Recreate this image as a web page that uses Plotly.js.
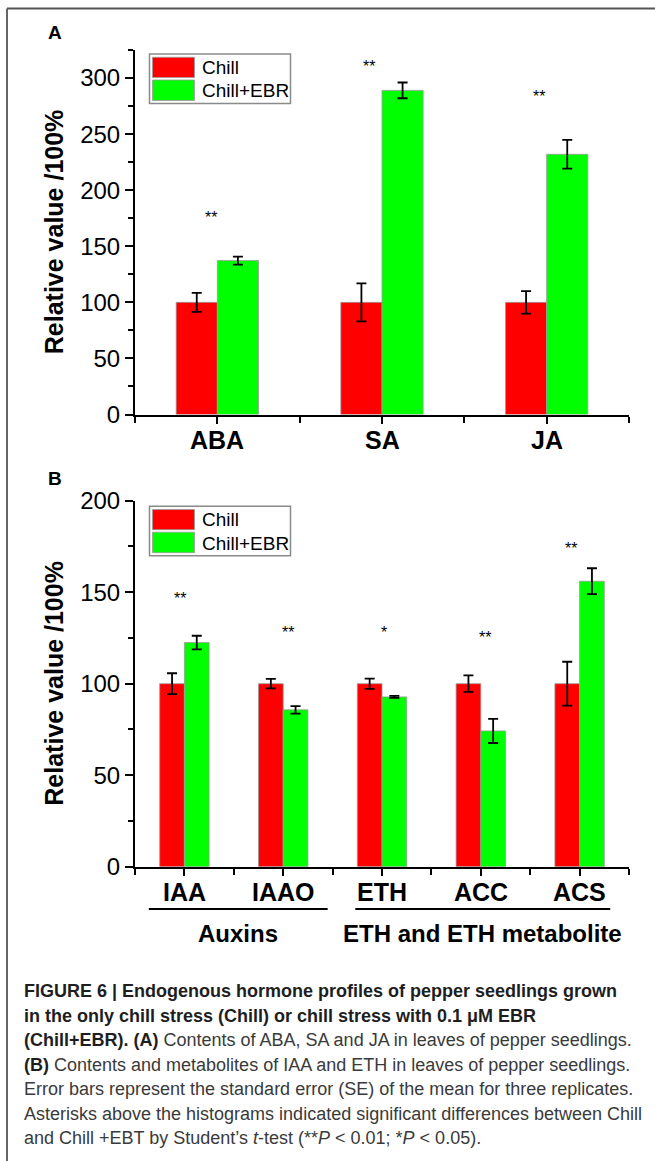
<!DOCTYPE html>
<html>
<head>
<meta charset="utf-8">
<script src="https://cdn.plot.ly/plotly-3.0.1.min.js"></script>
<style>
  html, body { margin: 0; padding: 0; background: #fff; }
  #chart { width: 655px; height: 1161px; }
</style>
</head>
<body>
<div id="chart"></div>
<script>
// ---------- data ----------
const seriesNames = ['Chill', 'Chill+EBR'];

const catsA = ['ABA', 'SA', 'JA'];
const chillA = [100, 100, 100];
const chillAErr = [8.5, 17, 10];
const ebrA = [137.2, 289, 232];
const ebrAErr = [3.5, 7, 12.8];
const sigA = ['**', '**', '**'];
const sigALevel = [179, 313.5, 287];

const catsB = ['IAA', 'IAAO', 'ETH', 'ACC', 'ACS'];
const chillB = [100, 100, 100, 100, 100];
const chillBErr = [5.7, 2.6, 2.8, 4.5, 12];
const ebrB = [122.5, 85.7, 92.8, 74.2, 156];
const ebrBErr = [3.7, 2, 0.5, 6.6, 7.1];
const sigB = ['**', '**', '*', '**', '**'];
const sigBLevel = [149, 130, 130, 127.6, 176];

const groupNames = ['Auxins', 'ETH and ETH metabolite'];
const groupMembers = [[0, 1], [2, 3, 4]];

const captionLines = [
  '<b>FIGURE 6 | Endogenous hormone profiles of pepper seedlings grown</b>',
  '<b>in the only chill stress (Chill) or chill stress with 0.1 \u03bcM EBR</b>',
  '<b>(Chill+EBR). (A)</b> Contents of ABA, SA and JA in leaves of pepper seedlings.',
  '<b>(B)</b> Contents and metabolites of IAA and ETH in leaves of pepper seedlings.',
  'Error bars represent the standard error (SE) of the mean for three replicates.',
  'Asterisks above the histograms indicated significant differences between Chill',
  'and Chill +EBT by Student\u2019s <i>t</i>-test (**<i>P</i> &lt; 0.01; *<i>P</i> &lt; 0.05).'
];

// ---------- layout helpers ----------
const W = 655, H = 1161;
const px = v => v / W;
const py = v => 1 - v / H;
const FONT = 'Liberation Sans, Arial, Helvetica, sans-serif';
const RED = '#ff0000', GREEN = '#00ff00';

const idxA = catsA.map((_, i) => i);
const idxB = catsB.map((_, i) => i);

function barTrace(x, y, err, color, name, xa, ya) {
  return {
    type: 'bar', x: x, y: y, name: name, xaxis: xa, yaxis: ya,
    marker: { color: color, line: { color: '#9a9a9a', width: 0.8 } },
    error_y: { type: 'data', array: err, visible: true, color: '#000', thickness: 1.8, width: 5 },
    showlegend: false, hoverinfo: 'skip'
  };
}

const data = [
  barTrace(idxA, chillA, chillAErr, RED, seriesNames[0], 'x', 'y'),
  barTrace(idxA, ebrA, ebrAErr, GREEN, seriesNames[1], 'x', 'y'),
  barTrace(idxB, chillB, chillBErr, RED, seriesNames[0], 'x2', 'y2'),
  barTrace(idxB, ebrB, ebrBErr, GREEN, seriesNames[1], 'x2', 'y2')
];

function xAxis(cats, anchor) {
  const n = cats.length;
  const bounds = [];
  for (let i = 0; i <= n; i++) bounds.push(i - 0.5);
  return {
    domain: [px(135), px(629)], anchor: anchor,
    range: [-0.5, n - 0.5], tickmode: 'array',
    tickvals: cats.map((_, i) => i), ticktext: cats, showticklabels: false,
    ticks: 'outside', ticklen: 7, tickwidth: 2, tickcolor: '#000',
    minor: { tickmode: 'array', tickvals: bounds, ticks: 'outside', ticklen: 6, tickwidth: 2, tickcolor: '#000' },
    showline: true, linewidth: 2, linecolor: '#000',
    showgrid: false, zeroline: false, fixedrange: true
  };
}
function yAxis(domPx, top, anchor) {
  return {
    domain: [py(domPx[1]), py(domPx[0])], anchor: anchor,
    range: [0, top], tick0: 0, dtick: 50,
    ticks: 'outside', ticklen: 8, tickwidth: 2, tickcolor: '#000',
    minor: { tick0: 0, dtick: 25, ticks: 'outside', ticklen: 5, tickwidth: 2, tickcolor: '#000' },
    showline: true, linewidth: 2, linecolor: '#000',
    showgrid: false, zeroline: false, fixedrange: true,
    tickfont: { family: FONT, size: 24, color: '#000' }
  };
}

const annotations = [];
const shapes = [];

// category labels (bold) placed under each axis
catsA.forEach((c, i) => annotations.push({ xref: 'x', yref: 'paper', x: i, y: py(440), text: '<b>' + c + '</b>',
  showarrow: false, xanchor: 'center', yanchor: 'middle', font: { family: FONT, size: 25, color: '#000' } }));
catsB.forEach((c, i) => annotations.push({ xref: 'x2', yref: 'paper', x: i, y: py(892), text: '<b>' + c + '</b>',
  showarrow: false, xanchor: 'center', yanchor: 'middle', font: { family: FONT, size: 25, color: '#000' } }));

// panel letters
annotations.push({ xref: 'paper', yref: 'paper', x: px(55), y: py(33), text: '<b>A</b>', showarrow: false,
  font: { family: FONT, size: 19, color: '#000' }, xanchor: 'center', yanchor: 'middle' });
annotations.push({ xref: 'paper', yref: 'paper', x: px(55), y: py(478), text: '<b>B</b>', showarrow: false,
  font: { family: FONT, size: 19, color: '#000' }, xanchor: 'center', yanchor: 'middle' });

// y titles
[[50, 414.5], [500.7, 866.7]].forEach(d => {
  annotations.push({ xref: 'paper', yref: 'paper', x: px(54), y: py((d[0] + d[1]) / 2),
    text: '<b>Relative value /100%</b>', textangle: -90, showarrow: false,
    font: { family: FONT, size: 25, color: '#000' }, xanchor: 'center', yanchor: 'middle' });
});

// significance marks
const sigADx = [-0.04, -0.076, -0.049];
const sigBDx = [-0.04, 0.05, 0.02, 0.04, -0.09];
sigA.forEach((s, i) => annotations.push({ xref: 'x', yref: 'y', x: i + sigADx[i], y: sigALevel[i], text: s,
  showarrow: false, yshift: -4, font: { family: FONT, size: 16, color: '#000' }, xanchor: 'center', yanchor: 'middle' }));
sigB.forEach((s, i) => annotations.push({ xref: 'x2', yref: 'y2', x: i + sigBDx[i], y: sigBLevel[i], text: s,
  showarrow: false, yshift: -4, font: { family: FONT, size: 16, color: '#000' }, xanchor: 'center', yanchor: 'middle' }));

// legends (drawn boxes), offset per panel
[0, 452.2].forEach(off => {
  shapes.push({ type: 'rect', xref: 'paper', yref: 'paper', x0: px(149.5), x1: px(290.5), y0: py(54 + off), y1: py(103.5 + off),
    line: { color: '#8a8a8a', width: 1.5 }, fillcolor: '#fff' });
  shapes.push({ type: 'rect', xref: 'paper', yref: 'paper', x0: px(152.5), x1: px(194.5), y0: py(57.3 + off), y1: py(77.5 + off),
    line: { color: '#9a9a9a', width: 0.8 }, fillcolor: RED });
  shapes.push({ type: 'rect', xref: 'paper', yref: 'paper', x0: px(152.5), x1: px(194.5), y0: py(80 + off), y1: py(100.5 + off),
    line: { color: '#9a9a9a', width: 0.8 }, fillcolor: GREEN });
  annotations.push({ xref: 'paper', yref: 'paper', x: px(200), y: py(67.5 + off), text: seriesNames[0], showarrow: false,
    xanchor: 'left', yanchor: 'middle', font: { family: FONT, size: 19, color: '#000' } });
  annotations.push({ xref: 'paper', yref: 'paper', x: px(200), y: py(91 + off), text: seriesNames[1], showarrow: false,
    xanchor: 'left', yanchor: 'middle', font: { family: FONT, size: 19, color: '#000' } });
});

// group brackets under panel B
const groupPad = [[0.36, 0.45], [0.27, 0.31]];
groupNames.forEach((g, k) => {
  const m = groupMembers[k];
  const x0 = m[0] - groupPad[k][0], x1 = m[m.length - 1] + groupPad[k][1];
  shapes.push({ type: 'line', xref: 'x2', yref: 'paper', x0: x0, x1: x1, y0: py(909), y1: py(909),
    line: { color: '#000', width: 2 } });
  annotations.push({ xref: 'x2', yref: 'paper', x: (x0 + x1) / 2, y: py(933), text: '<b>' + g + '</b>', showarrow: false,
    xanchor: 'center', yanchor: 'middle', font: { family: FONT, size: 24, color: '#000' } });
});

// caption
const capY = [991, 1015.5, 1040, 1064.5, 1089, 1113.5, 1138];
captionLines.forEach((t, i) => annotations.push({ xref: 'paper', yref: 'paper', x: px(22), y: py(capY[i]),
  text: t.replace(/<b>/g, '<b><span style="color:#1e1e1e">').replace(/<\/b>/g, '</span></b>'),
  showarrow: false, xanchor: 'left', yanchor: 'middle', align: 'left',
  font: { family: FONT, size: 18, color: '#3a3a3a' } }));

// frame
shapes.push({ type: 'line', xref: 'paper', yref: 'paper', x0: px(7), x1: 1, y0: py(8.5), y1: py(8.5), line: { color: '#555', width: 2 } });
shapes.push({ type: 'line', xref: 'paper', yref: 'paper', x0: px(7), x1: px(7), y0: py(8.5), y1: 0, line: { color: '#666', width: 2 } });

const layout = {
  width: W, height: H,
  margin: { l: 0, r: 0, t: 0, b: 0 },
  paper_bgcolor: '#fff', plot_bgcolor: 'rgba(0,0,0,0)',
  barmode: 'group', bargap: 0.5, bargroupgap: 0,
  showlegend: false,
  xaxis: xAxis(catsA, 'y'),
  yaxis: yAxis([50, 414.5], 325, 'x'),
  xaxis2: xAxis(catsB, 'y2'),
  yaxis2: yAxis([500.7, 866.7], 200, 'x2'),
  annotations: annotations,
  shapes: shapes,
  font: { family: FONT }
};

Plotly.newPlot('chart', data, layout, { displayModeBar: false, staticPlot: true });
</script>
</body>
</html>
